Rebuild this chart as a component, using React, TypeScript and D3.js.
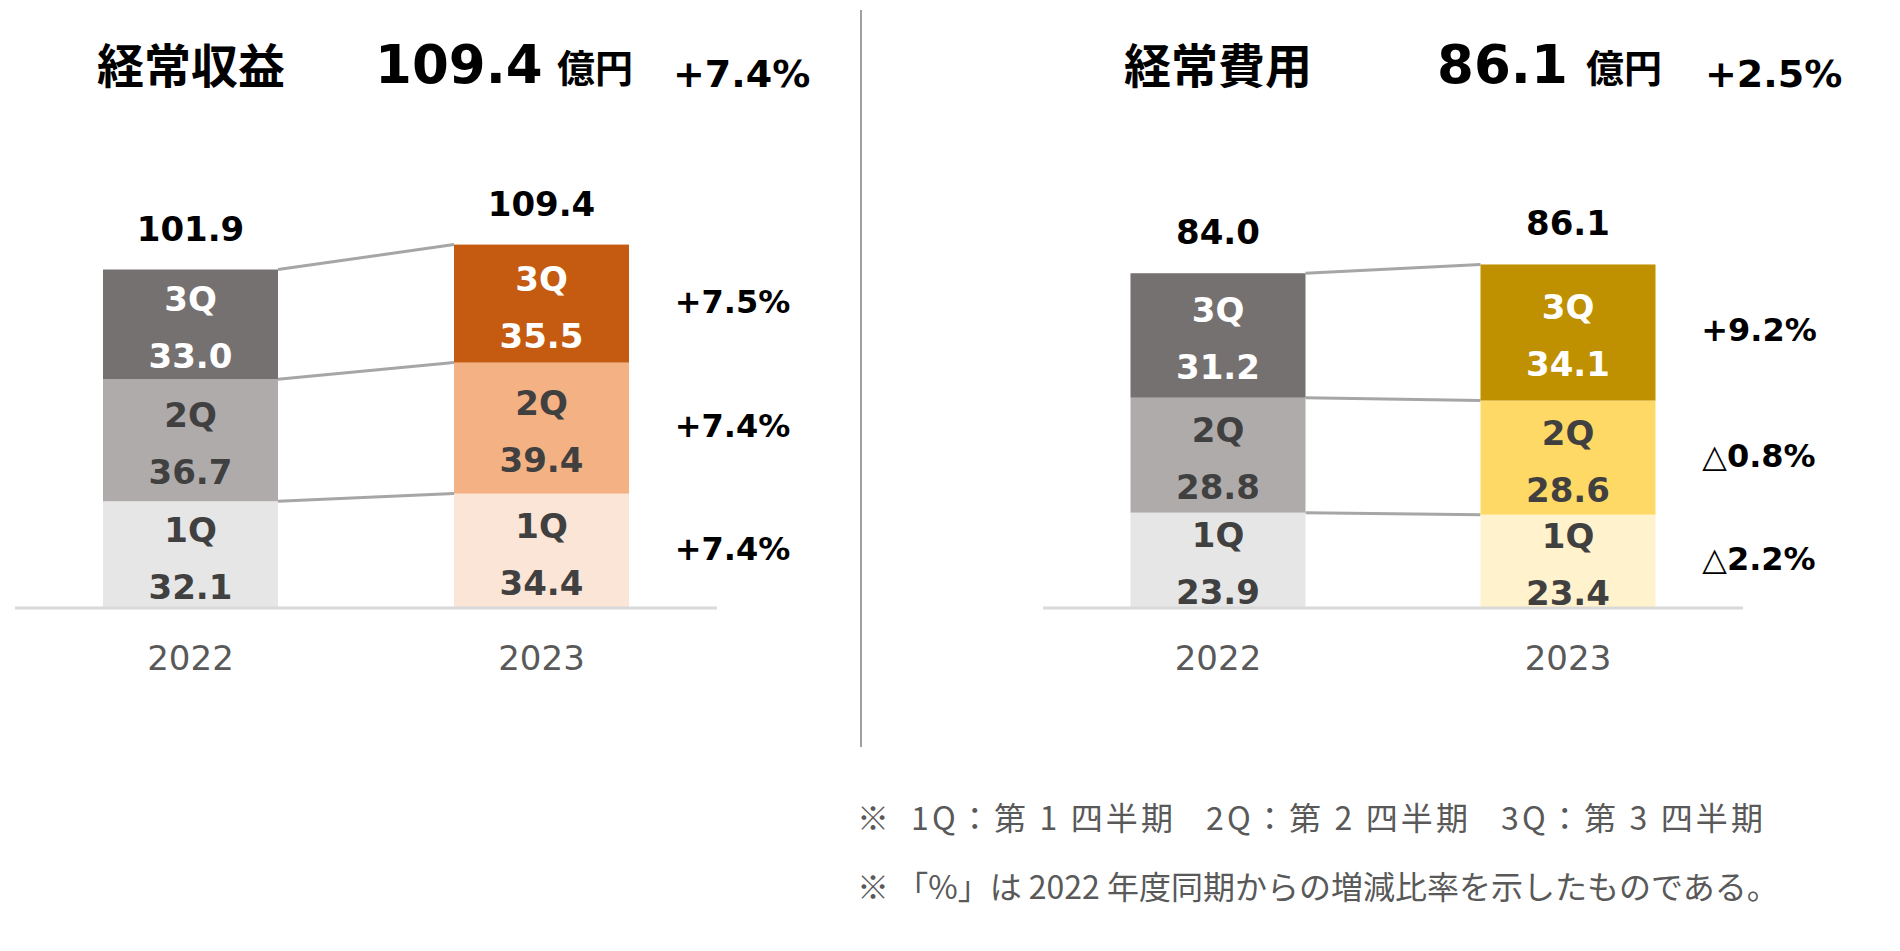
import React from "react";
import * as d3 from "d3";

const years = ["2022", "2023"];
const quarters = ["1Q", "2Q", "3Q"];

const revenue2022 = [32.1, 36.7, 33.0];
const revenue2023 = [34.4, 39.4, 35.5];
const revenueTotals = ["101.9", "109.4"];
const revenueChange = ["+7.4%", "+7.4%", "+7.5%"];
const revenueTitle = "経常収益";
const revenueHeadline = "109.4";
const revenueHeadlineChange = "+7.4%";

const expense2022 = [23.9, 28.8, 31.2];
const expense2023 = [23.4, 28.6, 34.1];
const expenseTotals = ["84.0", "86.1"];
const expenseChange = ["△2.2%", "△0.8%", "+9.2%"];
const expenseTitle = "経常費用";
const expenseHeadline = "86.1";
const expenseHeadlineChange = "+2.5%";

const unitLabel = "億円";
const footnoteMark = "※";
const footnoteQuarters = ["1Q：第 1 四半期", "2Q：第 2 四半期", "3Q：第 3 四半期"];
const footnoteNote = "※ 「%」は 2022 年度同期からの増減比率を示したものである。";

const LATIN = "'DejaVu Sans', Verdana, sans-serif";
const CJK = "'Noto Sans CJK JP', 'Noto Sans', sans-serif";

type PanelProps = {
  series: number[][];
  totals: string[];
  changes: string[];
  colors: string[][];
  textColors: string[];
  x0: number;
  x1: number;
  yMax: number;
  title: string;
  headline: string;
  headlineChange: string;
  titleX: number[];
};

function Panel(p: PanelProps) {
  const x = d3.scalePoint<string>().domain(years).range([p.x0, p.x1]).padding(0.5);
  const y = d3.scaleLinear().domain([0, p.yMax]).range([608, 209]);
  const barW = 175;
  const stacks = p.series.map((vals) => {
    const cum = Array.from(d3.cumsum(vals));
    return vals.map((v, i) => ({ v, lo: cum[i] - v, hi: cum[i] }));
  });
  const cx = (yr: string) => x(yr) as number;

  return (
    <g>
      {/* Title row */}
      <text x={p.titleX[0]} y={83} fontFamily={CJK} fontWeight={700} fontSize={47} fill="#000">
        {p.title}
      </text>
      <text x={p.titleX[1]} y={83} fontFamily={LATIN} fontWeight={700} fontSize={53} fill="#000">
        {p.headline}
      </text>
      <text x={p.titleX[2]} y={82} fontFamily={CJK} fontWeight={700} fontSize={38} fill="#000">
        {unitLabel}
      </text>
      <text x={p.titleX[3]} y={87} fontFamily={LATIN} fontWeight={700} fontSize={38} fill="#000">
        {p.headlineChange}
      </text>

      {/* Connector lines */}
      {[0, 1, 2].map((i) => {
        const a = stacks[0][i];
        const b = stacks[1][i];
        return (
          <line
            key={"c" + i}
            x1={cx(years[0]) + barW / 2}
            x2={cx(years[1]) - barW / 2}
            y1={y(a.hi)}
            y2={y(b.hi)}
            stroke="#A6A6A6"
            strokeWidth={3}
          />
        );
      })}

      {/* Bars */}
      {stacks.map((segs, yi) =>
        segs.map((s, qi) => (
          <rect
            key={"r" + yi + qi}
            x={cx(years[yi]) - barW / 2}
            width={barW}
            y={y(s.hi)}
            height={y(s.lo) - y(s.hi)}
            fill={p.colors[yi][qi]}
          />
        ))
      )}

      {/* Axis baseline */}
      <line x1={p.x0} x2={p.x1} y1={y(0)} y2={y(0)} stroke="#D9D9D9" strokeWidth={3} />

      {/* Segment labels */}
      {stacks.map((segs, yi) =>
        segs.map((s, qi) => {
          const mid = (y(s.lo) + y(s.hi)) / 2;
          return (
            <g key={"l" + yi + qi} fontFamily={LATIN} fontWeight={700} fontSize={34} textAnchor="middle" fill={p.textColors[qi]}>
              <text x={cx(years[yi])} y={mid - 13}>
                {quarters[qi]}
              </text>
              <text x={cx(years[yi])} y={mid + 44}>
                {s.v.toFixed(1)}
              </text>
            </g>
          );
        })
      )}

      {/* Totals */}
      {stacks.map((segs, yi) => (
        <text
          key={"t" + yi}
          x={cx(years[yi])}
          y={y(segs[segs.length - 1].hi) - 29}
          fontFamily={LATIN}
          fontWeight={700}
          fontSize={34}
          textAnchor="middle"
          fill="#000"
        >
          {p.totals[yi]}
        </text>
      ))}

      {/* Change labels */}
      {stacks[1].map((s, qi) => (
        <text
          key={"p" + qi}
          x={cx(years[1]) + 191}
          y={(y(s.lo) + y(s.hi)) / 2 + 9}
          fontFamily={LATIN}
          fontWeight={700}
          fontSize={32}
          textAnchor="middle"
          fill="#000"
        >
          {p.changes[qi]}
        </text>
      ))}

      {/* Year labels */}
      {years.map((yr) => (
        <text key={yr} x={cx(yr)} y={670} fontFamily={LATIN} fontSize={34} textAnchor="middle" fill="#595959">
          {yr}
        </text>
      ))}
    </g>
  );
}

export default function App() {
  const grey = ["#E7E6E6", "#AFABAB", "#767171"];
  const noteX = d3.scaleLinear().domain([0, 1]).range([911, 1206]);
  return (
    <svg
      width={1900}
      height={951}
      viewBox="0 0 1900 951"
      style={{ position: "absolute", left: 0, top: 0, background: "#fff" }}
    >
      <rect width={1900} height={951} fill="#fff" />
      <Panel
        series={[revenue2022, revenue2023]}
        totals={revenueTotals}
        changes={revenueChange}
        colors={[grey, ["#FBE5D6", "#F4B183", "#C55A11"]]}
        textColors={["#404040", "#404040", "#FFFFFF"]}
        x0={15}
        x1={717}
        yMax={120}
        title={revenueTitle}
        headline={revenueHeadline}
        headlineChange={revenueHeadlineChange}
        titleX={[97, 375, 557, 673]}
      />
      <Panel
        series={[expense2022, expense2023]}
        totals={expenseTotals}
        changes={expenseChange}
        colors={[grey, ["#FFF2CC", "#FFD966", "#BF9000"]]}
        textColors={["#404040", "#404040", "#FFFFFF"]}
        x0={1043}
        x1={1743}
        yMax={100}
        title={expenseTitle}
        headline={expenseHeadline}
        headlineChange={expenseHeadlineChange}
        titleX={[1124, 1437, 1586, 1705]}
      />
      <line x1={861} x2={861} y1={10} y2={747} stroke="#808080" strokeWidth={1.5} />
      <g fontFamily={CJK} fontSize={32} fill="#595959" style={{ whiteSpace: "pre" }}>
        <text x={857} y={830}>
          {footnoteMark}
        </text>
        {footnoteQuarters.map((t, i) => (
          <text key={i} x={noteX(i)} y={830} textLength={262} lengthAdjust="spacing">
            {t}
          </text>
        ))}
        <text x={857} y={899}>
          {footnoteNote}
        </text>
      </g>
    </svg>
  );
}
